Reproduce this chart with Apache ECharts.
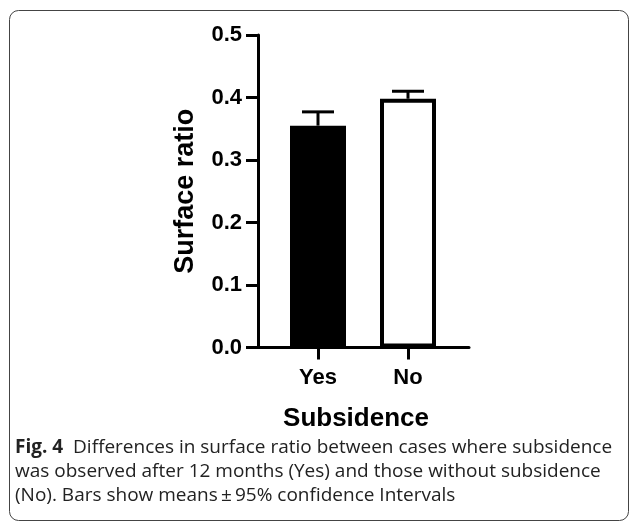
<!DOCTYPE html>
<html><head><meta charset="utf-8">
<script src="https://cdn.jsdelivr.net/npm/echarts@6/dist/echarts.min.js"></script>
<style>html,body{margin:0;padding:0;background:#fff}#c{width:630px;height:522px}</style>
</head><body><div id="c"></div>
<script>
const categories = ['Yes', 'No'];
const means = [0.355, 0.398];
const upperCI = [0.377, 0.410];
const barFills = ['#000000', '#ffffff'];
const yTickLabels = ['0.0', '0.1', '0.2', '0.3', '0.4', '0.5'];
const xTitle = 'Subsidence';
const yTitle = 'Surface ratio';

const chart = echarts.init(document.getElementById('c'), null, {renderer: 'canvas'});
const AX = 'Liberation Sans, Arial, sans-serif';
const CAP = 'Open Sans, Noto Sans, sans-serif';

const errData = categories.map((c, i) => [i, means[i], upperCI[i]]);

chart.setOption({
  backgroundColor: '#ffffff',
  animation: false,
  grid: [
    {left: 273, width: 180, top: 35, bottom: 174.5},
    {left: 258, width: 211, top: 35, bottom: 174.5}
  ],
  xAxis: [
    {
      gridIndex: 0, type: 'category', data: categories,
      axisLine: {show: false},
      axisTick: {show: true, alignWithLabel: true, length: 12, lineStyle: {color: '#000', width: 3}},
      axisLabel: {color: '#000', fontFamily: AX, fontWeight: 'bold', fontSize: 22, margin: 19},
      splitLine: {show: false},
      name: xTitle, nameLocation: 'middle', nameGap: 58,
      nameTextStyle: {color: '#000', fontFamily: AX, fontWeight: 'bold', fontSize: 26, padding: [0, 14, 0, 0]}
    },
    {
      gridIndex: 1, type: 'value', min: 0, max: 1,
      axisLine: {show: true, lineStyle: {color: '#000', width: 3}},
      axisTick: {show: false}, axisLabel: {show: false}, splitLine: {show: false}
    }
  ],
  yAxis: [
    {gridIndex: 0, type: 'value', min: 0, max: 0.5, show: false, splitLine: {show: false}},
    {
      gridIndex: 1, type: 'value', min: 0, max: 0.5, interval: 0.1,
      axisLine: {show: true, lineStyle: {color: '#000', width: 3}},
      axisTick: {show: true, length: 12, lineStyle: {color: '#000', width: 3}},
      axisLabel: {color: '#000', fontFamily: AX, fontWeight: 'bold', fontSize: 22, margin: 16,
        formatter: (v) => yTickLabels[Math.round(v * 10)]},
      splitLine: {show: false},
      name: yTitle, nameLocation: 'middle', nameGap: 59,
      nameTextStyle: {color: '#000', fontFamily: AX, fontWeight: 'bold', fontSize: 27}
    }
  ],
  series: [
    {
      type: 'bar', xAxisIndex: 0, yAxisIndex: 0, barWidth: 56,
      data: means.map((v, i) => ({value: v, itemStyle: {color: barFills[i], borderColor: '#000', borderWidth: 4}})),
      z: 2
    },
    {
      type: 'custom', xAxisIndex: 0, yAxisIndex: 0, z: 3,
      data: errData,
      encode: {x: 0, y: [1, 2]},
      renderItem: function (params, api) {
        const i = api.value(0);
        const p0 = api.coord([i, api.value(1)]);
        const p1 = api.coord([i, api.value(2)]);
        const hw = 16;
        const st = {stroke: '#000', lineWidth: 3, fill: null};
        return {type: 'group', children: [
          {type: 'line', shape: {x1: p0[0], y1: p0[1], x2: p1[0], y2: p1[1]}, style: st},
          {type: 'line', shape: {x1: p1[0] - hw, y1: p1[1], x2: p1[0] + hw, y2: p1[1]}, style: st}
        ]};
      }
    }
  ],
  graphic: [
    {type: 'rect', shape: {x: 9.5, y: 10.5, width: 619, height: 510, r: 9},
      style: {fill: 'none', stroke: '#444', lineWidth: 1}, silent: true},
    {type: 'text', left: 15, top: 436,
      style: {
        text: '{b|Fig. 4}  Differences in surface ratio between cases where subsidence\nwas observed after 12 months (Yes) and those without subsidence\n(No). Bars show means\u2009\u00b1\u200995% confidence Intervals',
        fontFamily: CAP, fontSize: 19, lineHeight: 24, fill: '#222',
        rich: {b: {fontFamily: CAP, fontSize: 19, fontWeight: 'bold', fill: '#222', lineHeight: 24}}
      }}
  ]
});
</script></body></html>
